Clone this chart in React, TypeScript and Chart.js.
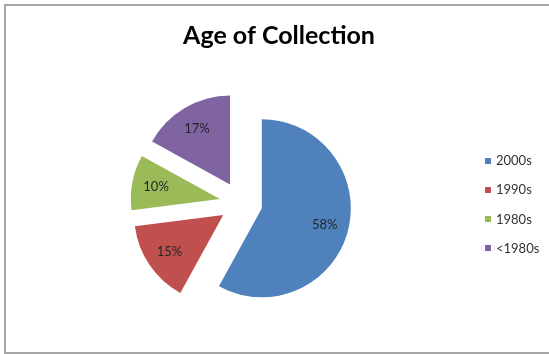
import React, { useEffect, useRef } from 'react';
import { Chart, registerables } from 'chart.js';

Chart.register(...registerables);

const TITLE = 'Age of Collection';
const categories = ['2000s', '1990s', '1980s', '<1980s'];
const shares = [58, 15, 10, 17];
const sliceColors = ['#4F81BD', '#C0504D', '#9BBB59', '#8064A2'];

const FONT = 'Lato, "Liberation Sans", Arial, sans-serif';
const EXPLODE = 21.5;
const LABEL_POS = 0.73;

const excelPie = {
  id: 'excelPie',
  beforeDraw(chart: any) {
    const ctx = chart.ctx;
    ctx.save();
    ctx.fillStyle = '#ffffff';
    ctx.fillRect(0, 0, chart.width, chart.height);
    ctx.fillStyle = '#a6a6a6';
    ctx.fillRect(4, 4, 2, 350);
    ctx.fillRect(4, 4, chart.width - 4, 2);
    ctx.fillRect(4, 352, chart.width - 4, 2);
    ctx.restore();
  },
  beforeDatasetDraw(chart: any, args: any) {
    const ctx = chart.ctx;
    const meta = args.meta;
    const values = chart.data.datasets[args.index].data as number[];
    const total = values.reduce((a, b) => a + b, 0);
    const centers: { cx: number; cy: number; mid: number; r: number }[] = [];
    meta.data.forEach((arc: any) => {
      const { x, y, startAngle, endAngle, outerRadius } = arc.getProps(
        ['x', 'y', 'startAngle', 'endAngle', 'outerRadius'],
        true
      );
      const mid = (startAngle + endAngle) / 2;
      const cx = x + Math.cos(mid) * EXPLODE;
      const cy = y + Math.sin(mid) * EXPLODE;
      ctx.save();
      ctx.beginPath();
      ctx.moveTo(cx, cy);
      ctx.arc(cx, cy, outerRadius, startAngle, endAngle);
      ctx.closePath();
      ctx.fillStyle = arc.options.backgroundColor;
      ctx.fill();
      ctx.restore();
      centers.push({ cx, cy, mid, r: outerRadius });
    });
    ctx.save();
    ctx.font = `13px ${FONT}`;
    ctx.fillStyle = '#262626';
    ctx.textAlign = 'center';
    ctx.textBaseline = 'middle';
    centers.forEach((c, i) => {
      const pct = Math.round((values[i] / total) * 100);
      ctx.fillText(
        `${pct}%`,
        c.cx + Math.cos(c.mid) * c.r * LABEL_POS,
        c.cy + Math.sin(c.mid) * c.r * LABEL_POS
      );
    });
    ctx.restore();
    return false;
  },
  afterDraw(chart: any) {
    const ctx = chart.ctx;
    ctx.save();
    // title
    ctx.font = `bold 25px ${FONT}`;
    ctx.fillStyle = '#000000';
    ctx.textAlign = 'center';
    ctx.textBaseline = 'alphabetic';
    ctx.fillText(TITLE, 279, 44);
    // legend
    ctx.font = `13px ${FONT}`;
    ctx.textAlign = 'left';
    ctx.textBaseline = 'middle';
    categories.forEach((label, i) => {
      const yc = 160.5 + i * 29.2;
      ctx.fillStyle = sliceColors[i];
      ctx.fillRect(485, Math.round(yc - 3), 6, 6);
      ctx.fillStyle = '#333333';
      ctx.fillText(label, 496, yc + 0.5);
    });
    ctx.restore();
  },
};

export default function App() {
  const canvasRef = useRef<HTMLCanvasElement | null>(null);

  useEffect(() => {
    if (!canvasRef.current) return;
    const chart = new Chart(canvasRef.current, {
      type: 'pie',
      data: {
        labels: categories,
        datasets: [
          {
            data: shares,
            backgroundColor: sliceColors,
            borderWidth: 0,
            radius: 89,
          } as any,
        ],
      },
      options: {
        responsive: false,
        animation: false,
        events: [],
        layout: { padding: { left: 0, right: 67, top: 52, bottom: 0 } },
        plugins: {
          legend: { display: false },
          title: { display: false },
          tooltip: { enabled: false },
        },
      },
      plugins: [excelPie],
    });
    return () => chart.destroy();
  }, []);

  return (
    <div style={{ position: 'absolute', left: 0, top: 0, width: 549, height: 354 }}>
      <canvas ref={canvasRef} width={549} height={354} style={{ display: 'block' }} />
    </div>
  );
}
